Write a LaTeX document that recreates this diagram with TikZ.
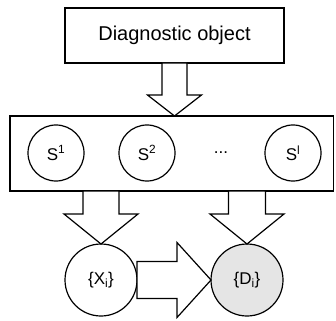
\documentclass[tikz,border=0pt]{standalone}
\usepackage{fontspec}
\setmainfont{Liberation Sans}
\usetikzlibrary{calc}
\begin{document}
\begin{tikzpicture}[x=1pt,y=-1pt,line width=1.2pt,
  bigbox/.style={draw,rectangle,outer sep=0pt,inner sep=0pt},
  scirc/.style={draw,circle,fill=white,outer sep=0pt,inner sep=0pt,minimum size=56pt,font=\fontsize{17}{20}\selectfont},
  ccirc/.style={draw,circle,fill=white,outer sep=0pt,inner sep=0pt,minimum size=72pt,font=\fontsize{17}{20}\selectfont},
  blk/.style={draw,fill=white,line join=miter}]
\useasboundingbox (0,0) rectangle (336,320);
\clip (0,0) rectangle (336,320);
\node[bigbox,minimum width=219pt,minimum height=55pt,font=\fontsize{20}{24}\selectfont] (top) at (174.5,35.5) {Diagnostic object};
\node[bigbox,minimum width=323.5pt,minimum height=75pt] (mid) at (171.75,153.5) {};
\node[scirc] (s1) at (56,153) {S\textsuperscript{1}};
\node[scirc] (s2) at (147,153) {S\textsuperscript{2}};
\node[font=\fontsize{17}{20}\selectfont] (dots) at (221,153) {...};
\node[scirc] (sl) at (293,153) {S\textsuperscript{l}};
\node[ccirc] (X) at (101,280) {\{X\textsubscript{i}\}};
\node[ccirc,fill=gray!20] (D) at (247,280) {\{D\textsubscript{i}\}};
% block arrows
\coordinate (a1) at (mid.north -| top.south);
\draw[blk] ($(a1)+(-12.5,-53)$) -- ($(a1)+(-12.5,-21)$) -- ($(a1)+(-27,-21)$) -- (a1)
  -- ($(a1)+(27,-21)$) -- ($(a1)+(12.5,-21)$) -- ($(a1)+(12.5,-53)$) -- cycle;
\draw[blk] ($(X.north)+(-18,-53)$) -- ($(X.north)+(-18,-30)$) -- ($(X.north)+(-37,-30)$) -- (X.north)
  -- ($(X.north)+(37,-30)$) -- ($(X.north)+(18,-30)$) -- ($(X.north)+(18,-53)$) -- cycle;
\draw[blk] ($(D.north)+(-18.5,-53)$) -- ($(D.north)+(-18.5,-30)$) -- ($(D.north)+(-37,-30)$) -- (D.north)
  -- ($(D.north)+(37,-30)$) -- ($(D.north)+(18.5,-30)$) -- ($(D.north)+(18.5,-53)$) -- cycle;
\draw[blk] ($(D.west)+(-74,-18.5)$) -- ($(D.west)+(-34,-18.5)$) -- ($(D.west)+(-34,-37.5)$) -- (D.west)
  -- ($(D.west)+(-34,37.5)$) -- ($(D.west)+(-34,18.5)$) -- ($(D.west)+(-74,18.5)$) -- cycle;
\end{tikzpicture}
\end{document}
